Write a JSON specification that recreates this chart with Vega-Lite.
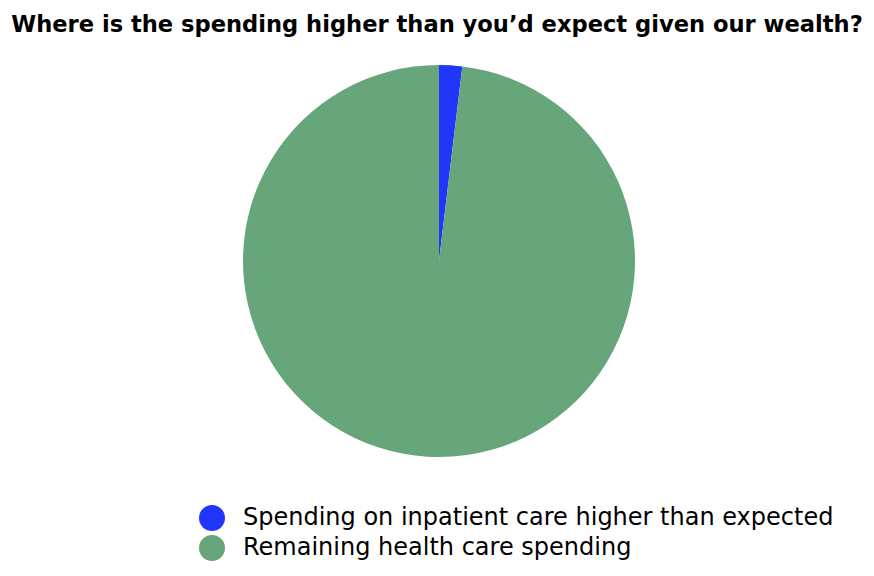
{
  "$schema": "https://vega.github.io/schema/vega-lite/v6.json",
  "autosize": {"type": "none"},
  "width": 874,
  "height": 576,
  "padding": 0,
  "background": "white",
  "title": {
    "text": "Where is the spending higher than you’d expect given our wealth?",
    "anchor": "middle",
    "orient": "top",
    "baseline": "alphabetic",
    "offset": -55,
    "font": "DejaVu Sans",
    "fontSize": 22.6,
    "fontWeight": "bold",
    "color": "black"
  },
  "data": {
    "values": [
      {"category": "Spending on inpatient care higher than expected", "share": 1.9},
      {"category": "Remaining health care spending", "share": 98.1}
    ]
  },
  "mark": {"type": "arc", "outerRadius": 196, "x": 439, "y": 261, "stroke": null},
  "encoding": {
    "theta": {"field": "share", "type": "quantitative", "stack": true},
    "order": {"field": "share", "type": "quantitative", "sort": "ascending"},
    "color": {
      "field": "category",
      "type": "nominal",
      "sort": ["Spending on inpatient care higher than expected", "Remaining health care spending"],
      "scale": {
        "domain": ["Spending on inpatient care higher than expected", "Remaining health care spending"],
        "range": ["#2236fb", "#67a57a"]
      },
      "legend": {
        "title": null,
        "orient": "none",
        "legendX": 199,
        "legendY": 505,
        "symbolType": "circle",
        "symbolSize": 676,
        "symbolStrokeWidth": 0,
        "labelFont": "DejaVu Sans",
        "labelFontSize": 24,
        "labelColor": "black",
        "labelLimit": 800,
        "labelOffset": 18,
        "rowPadding": 4
      }
    }
  },
  "config": {"view": {"stroke": null}}
}
